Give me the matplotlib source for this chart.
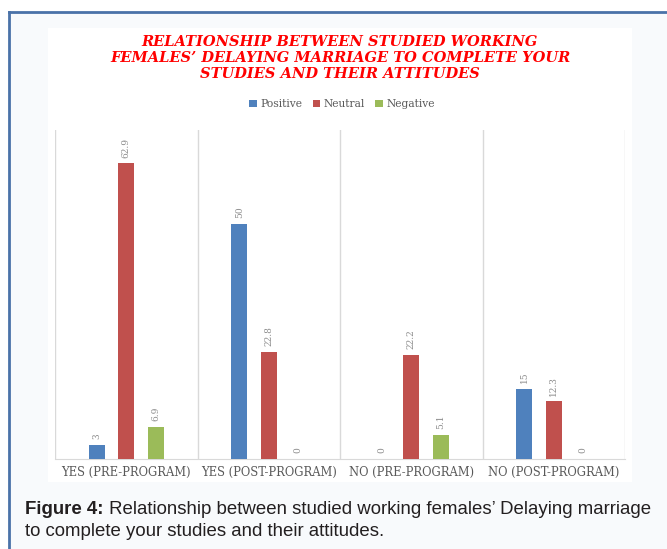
import matplotlib
matplotlib.use("Agg")
import matplotlib.pyplot as plt
from matplotlib.patches import Rectangle, Patch
from matplotlib.lines import Line2D
import numpy as np

# chart data
categories = ["YES (PRE-PROGRAM)", "YES (POST-PROGRAM)",
              "NO (PRE-PROGRAM)", "NO (POST-PROGRAM)"]
series_names = ["Positive", "Neutral", "Negative"]
positive = [3, 50, 0, 15]
neutral = [62.9, 22.8, 22.2, 12.3]
negative = [6.9, 0, 5.1, 0]
colors = ["#4F81BD", "#C0504D", "#9BBB59"]

title = ("RELATIONSHIP BETWEEN STUDIED WORKING\n"
         "FEMALES\u2019 DELAYING MARRIAGE TO COMPLETE YOUR\n"
         "STUDIES AND THEIR ATTITUDES")
caption_bold = "Figure 4:"
caption_1 = " Relationship between studied working females\u2019 Delaying marriage"
caption_2 = "to complete your studies and their attitudes."

W, H = 667, 549
fig = plt.figure(figsize=(W / 100, H / 100), dpi=100, facecolor="white")


def fx(px):
    return px / W


def fy(py):
    return 1 - py / H


# outer light box with blue border on top/left
fig.patches.append(Rectangle((fx(9), 0), 1, fy(12), transform=fig.transFigure,
                             facecolor="#f8fafc", edgecolor="none", zorder=0))
fig.add_artist(Line2D([fx(9), 1], [fy(12), fy(12)], transform=fig.transFigure,
                      color="#4a72a8", lw=2))
fig.add_artist(Line2D([fx(9), fx(9)], [0, fy(12)], transform=fig.transFigure,
                      color="#4a72a8", lw=2))
# white chart panel
fig.patches.append(Rectangle((fx(48), fy(482)), fx(632) - fx(48), fy(28) - fy(482),
                             transform=fig.transFigure, facecolor="white",
                             edgecolor="none", zorder=0.5))

ax = fig.add_axes([fx(55), fy(459), fx(625) - fx(55), fy(130) - fy(459)])
ax.set_facecolor("none")
ax.set_zorder(2)

x = np.arange(len(categories))
bw = 0.109
step = 0.207
for i, (vals, c) in enumerate(zip([positive, neutral, negative], colors)):
    xs = x + (i - 1) * step
    ax.bar(xs, vals, width=bw, color=c, zorder=3)
    for xx, v in zip(xs, vals):
        ax.text(xx, v + 1.2, f"{v:g}", rotation=90, ha="center", va="bottom",
                fontsize=6.5, color="#8c8c8c", family="DejaVu Serif")

ax.set_xlim(-0.5, len(categories) - 0.5)
ax.set_ylim(0, 70)
ax.set_yticks([])
ax.set_xticks(x)
ax.set_xticklabels(categories, fontsize=8.3, color="#595959", family="DejaVu Serif")
ax.tick_params(axis="x", length=0, pad=5)
for s in ["top", "right", "left"]:
    ax.spines[s].set_visible(False)
ax.spines["bottom"].set_color("#d9d9d9")
for b in np.arange(-0.5, len(categories), 1.0):
    ax.axvline(b, color="#d9d9d9", lw=1, zorder=1)

fig.text(fx(340), fy(58), title, ha="center", va="center", color="#ff0000",
         fontsize=10.5, fontweight="bold", fontstyle="italic",
         family="DejaVu Serif", linespacing=1.22)

handles = [Patch(facecolor=c, edgecolor="none") for c in colors]
fig.legend(handles, series_names, loc="center", bbox_to_anchor=(fx(342), fy(104)),
           ncol=3, frameon=False, handlelength=0.7, handleheight=0.7,
           handletextpad=0.3, columnspacing=1.0,
           prop={"family": "DejaVu Serif", "size": 7.7}, labelcolor="#595959")

# caption with bold prefix
fs = 13.4
t = fig.text(fx(25), fy(509), caption_bold, ha="left", va="center", fontsize=fs,
             fontweight="bold", family="Liberation Sans", color="#231f20")
r = fig.canvas.get_renderer()
bb = t.get_window_extent(renderer=r)
fig.text(bb.x1 / W, fy(509), caption_1, ha="left", va="center", fontsize=fs,
         family="Liberation Sans", color="#231f20")
fig.text(fx(25), fy(531), caption_2, ha="left", va="center", fontsize=fs,
         family="Liberation Sans", color="#231f20")

fig.savefig("out.png", dpi=100, facecolor="white")
